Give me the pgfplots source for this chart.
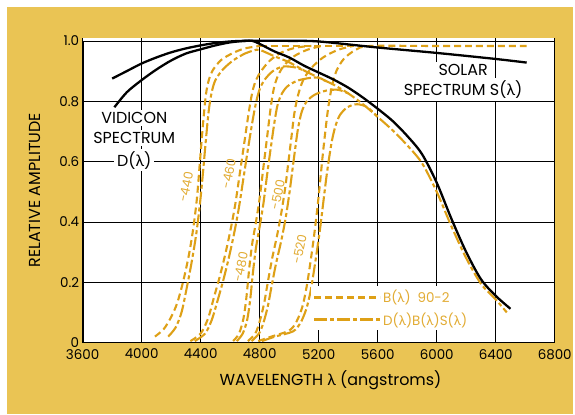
\documentclass[border=0pt]{standalone}
\usepackage{pgfplots}
\pgfplotsset{compat=1.18}
\usepackage{fontspec}
\setmainfont{Poppins}
\newfontfamily\grk{Lato}
\newcommand{\lam}{{\grk λ}}

\definecolor{bgy}{RGB}{234,196,84}
\definecolor{orng}{RGB}{222,160,22}
\definecolor{otxt}{RGB}{226,172,52}

\tikzset{
  bdash/.style={orng, line width=2.1pt, dash pattern=on 7pt off 4pt},
  pdash/.style={orng, line width=2.1pt, dash pattern=on 13pt off 3pt on 4pt off 3pt},
  blk/.style={black, line width=2.3pt},
  lbl/.style={fill=white, inner xsep=3pt, inner ysep=2.5pt, font=\fontsize{16}{17}\selectfont},
  flt/.style={otxt, font=\fontsize{12.5}{13}\selectfont, rotate=78},
}

\begin{document}
\begin{tikzpicture}
\fill[white] (0,0) rectangle (575pt,416pt);
\fill[bgy] (7pt,0) rectangle (575pt,409pt);

\begin{axis}[
  at={(83pt,72pt)}, anchor=south west,
  scale only axis, width=474pt, height=306pt,
  xmin=3600, xmax=6800, ymin=0, ymax=1.01,
  axis background/.style={fill=white},
  axis line style={draw=none},
  xtick={3600,4000,...,6800},
  ytick={0,0.2,0.4,0.6,0.8,1.0},
  yticklabels={0,0.2,0.4,0.6,0.8,1.0},
  major tick length=0pt,
  grid=major,
  grid style={black, line width=0.6pt},
  /pgf/number format/1000 sep={},
  /pgf/number format/assume math mode=true,
  tick label style={font=\fontsize{13.5}{14}\selectfont},
  xticklabel style={yshift=-3pt},
  xlabel={WAVELENGTH \lam\ (angstroms)},
  ylabel={RELATIVE AMPLITUDE},
  label style={font=\fontsize{16}{17}\selectfont},
  xlabel style={at={(axis description cs:0.525,-0.125)}, anchor=center},
  ylabel style={at={(axis description cs:-0.101,0.5)}, anchor=center},
  legend style={draw=none, fill=white, at={(0.484,0.112)}, anchor=west,
    font=\fontsize{13.5}{14}\selectfont, text=otxt, row sep=4pt, inner sep=2pt},
  legend cell align=left,
  legend image code/.code={\draw[orng, line width=2.1pt, #1] (0pt,0pt) -- (66pt,0pt);},
]

% white-backed text labels
\node[lbl] at (axis cs:3950,0.745) {VIDICON};
\node[lbl] at (axis cs:3950,0.677) {SPECTRUM};
\node[lbl] at (axis cs:3950,0.605) {D(\lam)};
\node[lbl] at (axis cs:6179,0.904) {SOLAR};
\node[lbl] at (axis cs:6179,0.838) {SPECTRUM S(\lam)};

% filter labels
\node[flt] at (axis cs:4300,0.515) {-440};
\node[flt] at (axis cs:4590,0.56) {-460};
\node[flt] at (axis cs:4672,0.25) {-480};
\node[flt] at (axis cs:4922,0.49) {-500};
\node[flt] at (axis cs:5070,0.31) {-520};

% B(lambda), filter 440
\addplot[bdash, smooth] coordinates {
(4090,0.02) (4150,0.045) (4200,0.085) (4240,0.13) (4280,0.2) (4320,0.29)
(4350,0.38) (4375,0.48) (4395,0.6) (4415,0.72) (4435,0.82) (4455,0.87)
(4485,0.905) (4540,0.937) (4620,0.96) (4700,0.975) (4800,0.983)
};
\addlegendentry{B(\lam)\enspace 90-2}
% D B S, filter 440
\addplot[pdash, smooth] coordinates {
(4180,0.02) (4230,0.05) (4270,0.1) (4305,0.18) (4340,0.27) (4370,0.36)
(4395,0.46) (4415,0.56) (4435,0.67) (4455,0.77) (4475,0.83) (4500,0.87)
(4550,0.905) (4620,0.935) (4700,0.958) (4760,0.968) (4800,0.97)
(4900,0.949) (5000,0.929) (5100,0.902) (5200,0.878) (5300,0.855)
(5400,0.826) (5500,0.79) (5600,0.748) (5700,0.704) (5800,0.654)
(5900,0.595) (6000,0.5) (6100,0.385) (6200,0.28) (6300,0.195)
(6400,0.143) (6475,0.1)
};
\addlegendentry{D(\lam)B(\lam)S(\lam)}

% filter 460
\addplot[bdash, smooth, forget plot] coordinates {
(4330,0.005) (4400,0.03) (4450,0.08) (4490,0.15) (4530,0.22) (4570,0.3)
(4605,0.38) (4635,0.46) (4665,0.56) (4695,0.66) (4725,0.76) (4750,0.83)
(4775,0.87) (4810,0.9) (4870,0.935) (4950,0.962) (5050,0.978) (5150,0.983)
};
\addplot[pdash, smooth, forget plot] coordinates {
(4360,0.005) (4430,0.03) (4475,0.075) (4515,0.14) (4555,0.21) (4595,0.29)
(4630,0.37) (4660,0.45) (4690,0.545) (4720,0.64) (4750,0.73) (4775,0.795)
(4800,0.84) (4835,0.872) (4890,0.9) (4960,0.915) (5040,0.912) (5100,0.902)
};

% filter 480
\addplot[bdash, smooth, forget plot] coordinates {
(4620,0.005) (4660,0.03) (4690,0.08) (4710,0.15) (4730,0.25) (4750,0.33)
(4775,0.4) (4800,0.48) (4825,0.58) (4850,0.68) (4875,0.78) (4895,0.84)
(4920,0.88) (4960,0.915) (5030,0.948) (5120,0.97) (5220,0.983)
};
\addplot[pdash, smooth, forget plot] coordinates {
(4645,0.005) (4685,0.03) (4715,0.075) (4735,0.14) (4755,0.235) (4775,0.315)
(4800,0.385) (4825,0.46) (4850,0.555) (4875,0.645) (4900,0.73) (4920,0.785)
(4945,0.82) (4985,0.848) (5055,0.868) (5140,0.877) (5200,0.878) (5250,0.866)
};

% filter 500
\addplot[bdash, smooth, forget plot] coordinates {
(4720,0.005) (4770,0.03) (4800,0.07) (4830,0.13) (4855,0.2) (4885,0.28)
(4920,0.36) (4950,0.44) (4975,0.52) (4995,0.6) (5015,0.68) (5035,0.76)
(5060,0.82) (5095,0.87) (5150,0.91) (5230,0.945) (5330,0.97) (5430,0.983)
};
\addplot[pdash, smooth, forget plot] coordinates {
(4745,0.005) (4795,0.03) (4825,0.065) (4855,0.12) (4880,0.185) (4910,0.26)
(4945,0.335) (4975,0.41) (5000,0.49) (5020,0.565) (5040,0.64) (5060,0.71)
(5085,0.765) (5120,0.8) (5175,0.822) (5250,0.835) (5330,0.838) (5400,0.826)
};

% filter 520, its B curve carries the common plateau
\addplot[bdash, smooth, forget plot] coordinates {
(4790,0.005) (4880,0.02) (5000,0.04) (5050,0.07) (5090,0.12) (5120,0.19)
(5145,0.27) (5165,0.34) (5185,0.42) (5205,0.51) (5225,0.61) (5245,0.7)
(5265,0.78) (5290,0.85) (5320,0.9) (5370,0.94) (5450,0.97) (5550,0.983)
(6000,0.983) (6610,0.983)
};
\addplot[bdash, forget plot] coordinates {(4800,0.983) (5550,0.983)};
\addplot[pdash, smooth, forget plot] coordinates {
(4815,0.005) (4905,0.02) (5025,0.037) (5075,0.064) (5115,0.11) (5145,0.17)
(5170,0.245) (5190,0.31) (5210,0.38) (5230,0.46) (5250,0.54) (5270,0.61)
(5290,0.67) (5315,0.72) (5345,0.755) (5395,0.78) (5460,0.79) (5530,0.78)
(5600,0.748)
};

% vidicon spectrum D(lambda)
\addplot[blk, smooth, forget plot] coordinates {
(3815,0.78) (3900,0.83) (4000,0.87) (4100,0.905) (4200,0.935) (4300,0.958)
(4400,0.972) (4500,0.985) (4600,0.995) (4700,1.0) (4750,1.0) (4800,0.99)
(4900,0.965) (5000,0.945) (5100,0.918) (5200,0.895) (5300,0.872)
(5400,0.845) (5500,0.812) (5600,0.775) (5700,0.735) (5800,0.685)
(5900,0.625) (6000,0.53) (6100,0.41) (6200,0.3) (6300,0.21) (6400,0.155)
(6500,0.112)
};
% solar spectrum S(lambda)
\addplot[blk, smooth, forget plot] coordinates {
(3800,0.875) (3900,0.9) (4000,0.925) (4100,0.945) (4200,0.962) (4300,0.975)
(4400,0.985) (4500,0.993) (4600,0.998) (4700,1.0) (5000,1.0) (5200,0.998)
(5600,0.978) (6000,0.96) (6400,0.94) (6610,0.928)
};

% heavy left and bottom axis lines
\draw[black, line width=1.8pt] (axis cs:3600,1.0) -- (axis cs:3600,0) -- (axis cs:6800,0);
\end{axis}
\end{tikzpicture}
\end{document}
